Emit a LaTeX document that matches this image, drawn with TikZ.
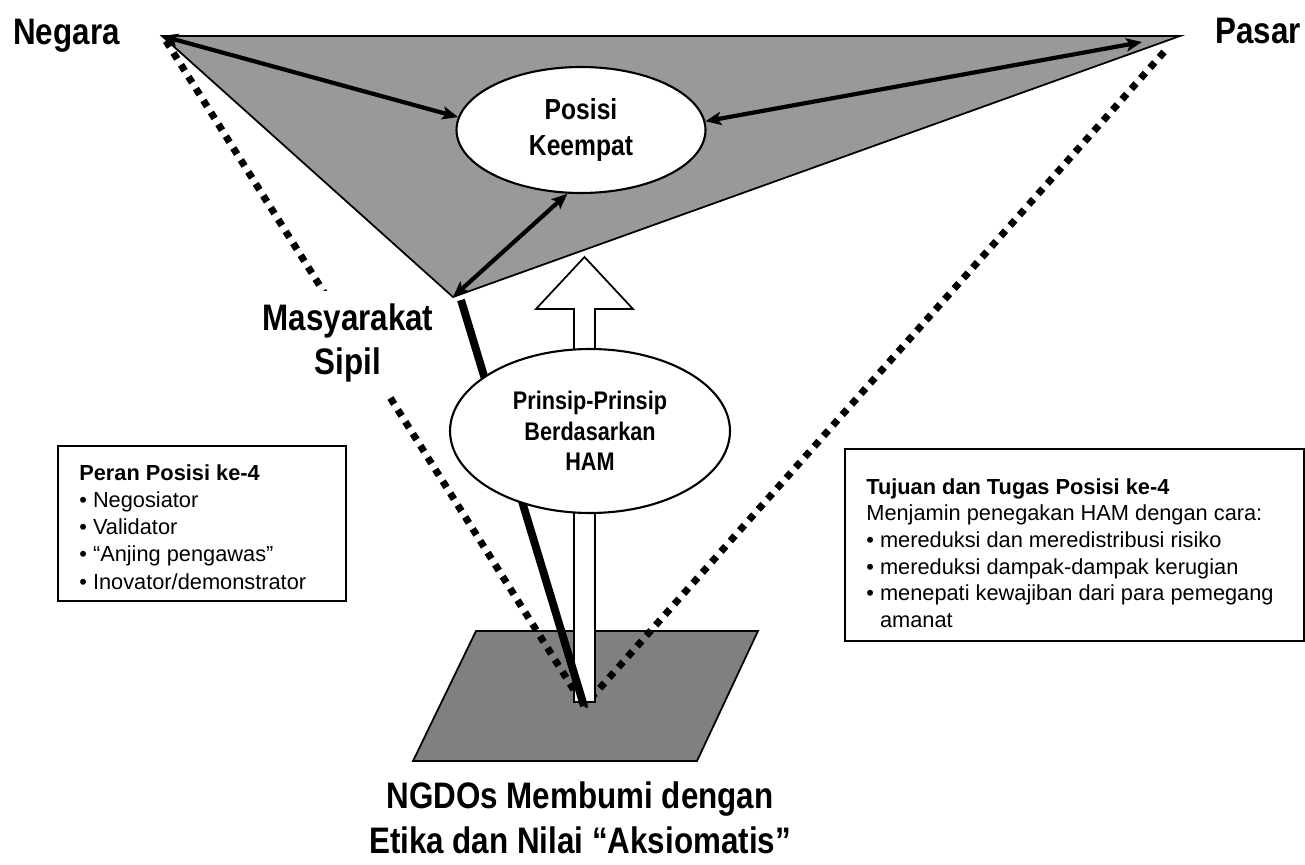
\documentclass[tikz,border=0pt]{standalone}
\usepackage{fontspec}
\setmainfont{Liberation Sans}
\newfontfamily\narrowfont[FakeStretch=0.85]{Liberation Sans}
\usetikzlibrary{arrows.meta,shapes.geometric}

\newcommand{\bulletitem}{\textbullet\ }

\begin{document}
\begin{tikzpicture}[
    x=0.02cm, y=-0.02cm,
    ground/.style={draw=black, line width=1pt, fill=black!50},
    sheet/.style={draw=black, line width=1pt, fill=black!40},
    bubble/.style={ellipse, draw=black, line width=1.2pt, fill=white, inner sep=0pt, align=center},
    link/.style={{Stealth[length=9pt,width=7.5pt,inset=2pt]}-{Stealth[length=9pt,width=7.5pt,inset=2pt]}, line width=2.4pt},
    tie/.style={line width=4pt, dash pattern=on 4pt off 4pt},
    pillar/.style={line width=4.5pt},
    hollow/.style={draw=black, line width=1pt, fill=white},
    bigtag/.style={font=\narrowfont\bfseries\fontsize{21}{25.5}\selectfont, inner sep=0pt},
    infobox/.style={draw=black, line width=1pt, inner sep=0pt},
    infotext/.style={align=left, inner sep=0pt, anchor=north west}
  ]
  \useasboundingbox (0,0) rectangle (1305,865);
  % ground plane and the triangle of actors
  \draw[ground] (476,631) -- (758,631) -- (697,761) -- (413,761) -- cycle;
  \coordinate (N) at (162,36);
  \coordinate (P) at (1180,36);
  \coordinate (M) at (453,297);
  \coordinate (root) at (584,706);
  \draw[sheet] (N) -- (P) -- (M) -- cycle;
  % dotted ties down to the ground
  \coordinate (Ntie) at (166,41);
  \coordinate (Ptie) at (1164,52);
  \draw[tie] (Ntie) -- (root);
  \draw[tie] (Ptie) -- (root);
  % hollow arrow and the stick
  \draw[hollow] (574,702) -- (574,309) -- (536,309) -- (584.5,257) -- (633,309) -- (595,309) -- (595,702) -- cycle;
  \coordinate (Mfoot) at (461,300);
  \draw[pillar] (Mfoot) -- (root);
  % ellipses
  \node[bubble, minimum width=5.6cm, minimum height=3.28cm,
        font=\narrowfont\bfseries\fontsize{14.5}{17.3}\selectfont] (prinsip) at (590,431)
        {Prinsip-Prinsip\\Berdasarkan\\HAM};
  \node[bubble, minimum width=4.98cm, minimum height=2.52cm,
        font=\narrowfont\bfseries\fontsize{16.5}{20.4}\selectfont] (posisi) at (581,130)
        {Posisi\\Keempat};
  \coordinate (Parrow) at (1142,42);
  \draw[link] (N) -- (posisi.174);
  \draw[link] (posisi.4) -- (Parrow);
  \draw[link] (M) -- (posisi.258);
  % labels
  \node[bigtag, anchor=base west] (negara) at (13,45) {Negara};
  \node[bigtag, anchor=base west] (pasar) at (1215,44) {Pasar};
  \node[bigtag, align=center, fill=white, inner xsep=2pt, inner ysep=7pt] (sipil) at (348,343) {Masyarakat\\Sipil};
  \node[bigtag, align=center, font=\narrowfont\bfseries\fontsize{21}{25.5}\selectfont] (ngdo) at (580,818)
        {NGDOs Membumi dengan\\Etika dan Nilai “Aksiomatis”};
  % boxes
  \node[infobox, anchor=north west, minimum width=5.76cm, minimum height=3.1cm] (peranbox) at (57,445) {};
  \node[infotext, font=\fontsize{12.4}{15.5}\selectfont] (peran) at (79,464)
        {\textbf{Peran Posisi ke-4}\\
         \bulletitem Negosiator\\
         \bulletitem Validator\\
         \bulletitem “Anjing pengawas”\\
         \bulletitem Inovator/demonstrator};
  \node[infobox, anchor=north west, minimum width=9.18cm, minimum height=3.84cm] (tujuanbox) at (844,448) {};
  \node[infotext, font=\fontsize{12.4}{15.2}\selectfont] (tujuan) at (866,478)
        {\textbf{Tujuan dan Tugas Posisi ke-4}\\
         Menjamin penegakan HAM dengan cara:\\
         \bulletitem mereduksi dan meredistribusi risiko\\
         \bulletitem mereduksi dampak-dampak kerugian\\
         \bulletitem menepati kewajiban dari para pemegang\\
         \hphantom{\bulletitem}amanat};
\end{tikzpicture}
\end{document}
